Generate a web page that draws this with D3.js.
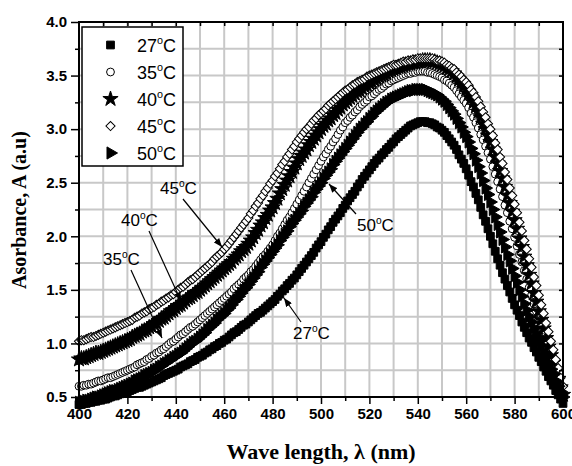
<!DOCTYPE html>
<html>
<head>
<meta charset="utf-8">
<script src="https://cdn.jsdelivr.net/npm/d3@7"></script>
<style>
body { margin: 0; background: #fff; }
text { font-family: Arial, "Liberation Sans", sans-serif; }
</style>
</head>
<body>
<svg width="572" height="466"></svg>
<script>
// wavelength grid, 1 nm step (400..600)
var wavelength = d3.range(400, 601, 1);

var abs27 = [
  0.43,0.43,0.44,0.44,0.45,0.45,0.46,0.46,0.47,0.47,
  0.48,0.48,0.49,0.50,0.51,0.51,0.52,0.53,0.54,0.54,
  0.55,0.56,0.57,0.58,0.59,0.59,0.60,0.61,0.62,0.63,
  0.64,0.65,0.66,0.67,0.68,0.70,0.71,0.72,0.73,0.74,
  0.75,0.76,0.78,0.79,0.80,0.81,0.83,0.84,0.85,0.87,
  0.88,0.89,0.91,0.92,0.94,0.95,0.97,0.98,1.00,1.01,
  1.03,1.04,1.06,1.08,1.10,1.11,1.13,1.15,1.17,1.18,
  1.20,1.22,1.24,1.26,1.28,1.29,1.31,1.33,1.35,1.37,
  1.39,1.41,1.44,1.46,1.49,1.51,1.54,1.56,1.59,1.61,
  1.64,1.67,1.70,1.73,1.76,1.79,1.82,1.85,1.89,1.92,
  1.95,1.99,2.02,2.06,2.09,2.13,2.16,2.19,2.22,2.26,
  2.29,2.33,2.36,2.39,2.42,2.46,2.49,2.53,2.56,2.59,
  2.62,2.65,2.68,2.71,2.73,2.76,2.78,2.81,2.83,2.86,
  2.88,2.91,2.93,2.95,2.97,2.99,3.01,3.03,3.04,3.05,
  3.06,3.07,3.07,3.07,3.06,3.06,3.05,3.04,3.02,3.01,
  2.99,2.97,2.94,2.91,2.88,2.85,2.81,2.76,2.72,2.68,
  2.63,2.57,2.51,2.46,2.40,2.34,2.27,2.20,2.14,2.07,
  2.00,1.93,1.86,1.79,1.73,1.66,1.60,1.54,1.48,1.42,
  1.36,1.31,1.26,1.20,1.15,1.10,1.05,1.01,0.96,0.92,
  0.87,0.83,0.78,0.74,0.69,0.65,0.61,0.56,0.52,0.48,
  0.44];

var abs35 = [
  0.60,0.60,0.61,0.61,0.62,0.62,0.63,0.64,0.65,0.65,
  0.66,0.67,0.68,0.68,0.69,0.70,0.71,0.72,0.73,0.74,
  0.75,0.76,0.77,0.78,0.80,0.81,0.82,0.83,0.85,0.86,
  0.88,0.89,0.91,0.92,0.94,0.95,0.97,0.99,1.01,1.02,
  1.04,1.06,1.08,1.09,1.11,1.13,1.15,1.16,1.18,1.20,
  1.22,1.24,1.26,1.28,1.30,1.32,1.34,1.36,1.38,1.40,
  1.42,1.44,1.46,1.48,1.51,1.53,1.55,1.57,1.60,1.62,
  1.64,1.67,1.69,1.72,1.75,1.78,1.81,1.83,1.86,1.89,
  1.92,1.96,2.00,2.03,2.07,2.11,2.15,2.18,2.22,2.26,
  2.30,2.34,2.38,2.42,2.46,2.50,2.54,2.58,2.62,2.66,
  2.70,2.74,2.77,2.81,2.84,2.88,2.91,2.95,2.99,3.02,
  3.06,3.08,3.11,3.13,3.16,3.18,3.21,3.23,3.25,3.27,
  3.30,3.31,3.33,3.35,3.37,3.38,3.40,3.42,3.43,3.45,
  3.46,3.47,3.48,3.49,3.50,3.51,3.52,3.52,3.53,3.53,
  3.54,3.54,3.54,3.54,3.53,3.53,3.52,3.51,3.50,3.49,
  3.48,3.46,3.45,3.43,3.41,3.39,3.36,3.33,3.30,3.27,
  3.24,3.20,3.15,3.11,3.06,3.01,2.95,2.90,2.84,2.78,
  2.72,2.65,2.58,2.51,2.44,2.37,2.29,2.22,2.14,2.07,
  1.99,1.91,1.83,1.76,1.68,1.60,1.52,1.45,1.37,1.30,
  1.22,1.15,1.08,1.00,0.93,0.86,0.79,0.72,0.66,0.59,
  0.52];

var abs40 = [
  0.85,0.86,0.86,0.87,0.88,0.89,0.90,0.91,0.91,0.92,
  0.93,0.94,0.95,0.96,0.97,0.98,0.99,1.00,1.01,1.02,
  1.03,1.04,1.06,1.07,1.08,1.09,1.11,1.12,1.13,1.15,
  1.16,1.18,1.19,1.21,1.23,1.24,1.26,1.28,1.30,1.31,
  1.33,1.35,1.36,1.38,1.40,1.42,1.43,1.45,1.47,1.48,
  1.50,1.52,1.54,1.56,1.58,1.60,1.62,1.64,1.66,1.68,
  1.70,1.72,1.74,1.76,1.79,1.81,1.83,1.86,1.88,1.90,
  1.93,1.96,1.99,2.03,2.06,2.10,2.13,2.17,2.20,2.24,
  2.27,2.31,2.35,2.40,2.44,2.48,2.52,2.56,2.60,2.64,
  2.68,2.72,2.75,2.78,2.81,2.85,2.88,2.91,2.94,2.97,
  3.00,3.03,3.05,3.08,3.10,3.13,3.15,3.18,3.20,3.23,
  3.25,3.27,3.29,3.31,3.33,3.35,3.36,3.38,3.40,3.41,
  3.43,3.44,3.46,3.47,3.49,3.50,3.51,3.52,3.54,3.55,
  3.56,3.57,3.58,3.58,3.59,3.60,3.61,3.61,3.62,3.62,
  3.63,3.63,3.64,3.64,3.64,3.64,3.63,3.63,3.62,3.61,
  3.60,3.59,3.57,3.56,3.54,3.52,3.49,3.46,3.43,3.40,
  3.37,3.33,3.29,3.25,3.21,3.16,3.11,3.05,3.00,2.94,
  2.88,2.81,2.74,2.68,2.61,2.54,2.46,2.38,2.31,2.23,
  2.15,2.07,1.98,1.90,1.81,1.73,1.64,1.56,1.47,1.39,
  1.30,1.22,1.14,1.05,0.97,0.89,0.82,0.74,0.67,0.59,
  0.52];

var abs45 = [
  1.02,1.03,1.03,1.04,1.05,1.06,1.06,1.07,1.08,1.09,
  1.10,1.11,1.12,1.13,1.14,1.15,1.16,1.17,1.18,1.19,
  1.20,1.21,1.22,1.24,1.25,1.26,1.28,1.29,1.30,1.32,
  1.33,1.34,1.36,1.37,1.39,1.40,1.42,1.43,1.45,1.46,
  1.48,1.50,1.52,1.53,1.55,1.57,1.59,1.60,1.62,1.64,
  1.66,1.68,1.70,1.72,1.74,1.76,1.79,1.81,1.83,1.85,
  1.88,1.90,1.93,1.96,1.99,2.02,2.05,2.08,2.11,2.14,
  2.17,2.21,2.24,2.28,2.31,2.35,2.38,2.42,2.45,2.49,
  2.52,2.56,2.59,2.63,2.67,2.70,2.74,2.77,2.81,2.84,
  2.88,2.91,2.94,2.97,3.00,3.02,3.05,3.08,3.10,3.13,
  3.15,3.17,3.19,3.22,3.24,3.26,3.28,3.30,3.32,3.34,
  3.36,3.37,3.39,3.41,3.42,3.44,3.45,3.46,3.47,3.49,
  3.50,3.51,3.52,3.53,3.54,3.55,3.56,3.57,3.58,3.59,
  3.60,3.60,3.61,3.62,3.63,3.63,3.64,3.64,3.65,3.65,
  3.66,3.66,3.66,3.66,3.66,3.66,3.66,3.65,3.64,3.64,
  3.63,3.62,3.60,3.59,3.57,3.56,3.53,3.51,3.49,3.46,
  3.44,3.41,3.37,3.34,3.30,3.26,3.21,3.16,3.11,3.05,
  3.00,2.94,2.87,2.81,2.74,2.68,2.60,2.53,2.45,2.38,
  2.30,2.22,2.13,2.05,1.96,1.88,1.79,1.71,1.62,1.54,
  1.45,1.36,1.28,1.19,1.11,1.02,0.94,0.85,0.77,0.68,
  0.60];

var abs50 = [
  0.45,0.45,0.46,0.47,0.47,0.48,0.49,0.50,0.50,0.51,
  0.52,0.53,0.54,0.55,0.56,0.56,0.57,0.58,0.59,0.60,
  0.61,0.62,0.63,0.65,0.66,0.67,0.68,0.70,0.71,0.72,
  0.73,0.75,0.76,0.78,0.79,0.81,0.82,0.84,0.85,0.87,
  0.88,0.90,0.91,0.93,0.95,0.97,0.99,1.01,1.02,1.04,
  1.06,1.08,1.10,1.13,1.15,1.17,1.19,1.22,1.24,1.26,
  1.28,1.31,1.33,1.36,1.39,1.41,1.44,1.47,1.50,1.52,
  1.55,1.58,1.61,1.64,1.67,1.71,1.74,1.77,1.80,1.83,
  1.86,1.89,1.92,1.96,1.99,2.02,2.05,2.09,2.12,2.15,
  2.18,2.21,2.24,2.28,2.31,2.34,2.37,2.41,2.44,2.47,
  2.50,2.54,2.57,2.60,2.63,2.67,2.70,2.73,2.76,2.79,
  2.82,2.85,2.88,2.91,2.94,2.97,3.00,3.02,3.05,3.07,
  3.10,3.12,3.15,3.17,3.19,3.21,3.23,3.25,3.26,3.28,
  3.29,3.30,3.31,3.32,3.33,3.34,3.35,3.36,3.36,3.37,
  3.37,3.37,3.37,3.37,3.36,3.35,3.34,3.33,3.32,3.30,
  3.28,3.26,3.23,3.20,3.17,3.14,3.10,3.06,3.02,2.97,
  2.93,2.88,2.82,2.77,2.71,2.65,2.59,2.52,2.45,2.39,
  2.32,2.25,2.18,2.11,2.04,1.97,1.90,1.83,1.77,1.70,
  1.63,1.57,1.50,1.44,1.37,1.31,1.25,1.20,1.14,1.09,
  1.03,0.98,0.92,0.87,0.81,0.76,0.71,0.65,0.60,0.55,
  0.50];

var temps = ['27', '35', '40', '45', '50'];
var xTicks = [400, 420, 440, 460, 480, 500, 520, 540, 560, 580, 600];
var yTicks = [0.5, 1.0, 1.5, 2.0, 2.5, 3.0, 3.5, 4.0];

// annotation labels: temperature, label pos, arrow start, arrow end
var notes = [
  {t: '45', lx: 160, ly: 194, x1: 183, y1: 199, x2: 222, y2: 247},
  {t: '40', lx: 121, ly: 226, x1: 149, y1: 231, x2: 181, y2: 301},
  {t: '35', lx: 103, ly: 265, x1: 131, y1: 270, x2: 162, y2: 338},
  {t: '50', lx: 357, ly: 231, x1: 356, y1: 214, x2: 329, y2: 184},
  {t: '27', lx: 293, ly: 339, x1: 301, y1: 322, x2: 284, y2: 298}
];

var svg = d3.select('svg');
var x = d3.scaleLinear().domain([400, 600]).range([79, 563]);
var y = d3.scaleLinear().domain([0.5, 4.0]).range([397, 22]);

var defs = svg.append('defs');
defs.append('marker')
  .attr('id', 'arr')
  .attr('viewBox', '0 0 10 8')
  .attr('refX', 10).attr('refY', 4)
  .attr('markerWidth', 9).attr('markerHeight', 7)
  .attr('markerUnits', 'userSpaceOnUse')
  .attr('orient', 'auto')
  .append('path').attr('d', 'M0,0L10,4L0,8Z').attr('fill', '#000');

// grid
var grid = svg.append('g');
grid.selectAll('.gx').data(d3.range(410, 600, 10)).enter().append('line')
  .attr('x1', function(d){ return x(d); }).attr('x2', function(d){ return x(d); })
  .attr('y1', y(4.0)).attr('y2', y(0.5))
  .attr('stroke', '#c8c8c8').attr('stroke-width', 2);
grid.selectAll('.gy').data(d3.range(0.75, 4.0, 0.25)).enter().append('line')
  .attr('y1', function(d){ return y(d); }).attr('y2', function(d){ return y(d); })
  .attr('x1', x(400)).attr('x2', x(600))
  .attr('stroke', '#c8c8c8').attr('stroke-width', 2);

// symbols
var symbolDefs = {
  '27': {path: d3.symbol(d3.symbolSquare, 60)(), rot: 0, fill: '#000'},
  '35': {path: d3.symbol(d3.symbolCircle, 48)(), rot: 0, fill: '#fff'},
  '40': {path: d3.symbol(d3.symbolStar, 72)(), rot: 0, fill: '#000'},
  '45': {path: d3.symbol(d3.symbolSquare, 42)(), rot: 45, fill: '#fff'},
  '50': {path: d3.symbol(d3.symbolTriangle, 64)(), rot: 90, fill: '#000'}
};

var seriesData = {'27': abs27, '35': abs35, '40': abs40, '45': abs45, '50': abs50};

temps.forEach(function(t){
  var s = symbolDefs[t];
  var pts = wavelength.map(function(w, i){ return {w: w, a: seriesData[t][i]}; });
  svg.append('g').selectAll('path').data(pts).enter().append('path')
    .attr('d', s.path)
    .attr('transform', function(d){
      return 'translate(' + x(d.w) + ',' + y(d.a) + ') rotate(' + s.rot + ')';
    })
    .attr('fill', s.fill)
    .attr('stroke', '#000')
    .attr('stroke-width', 1);
});

// axes
var fmt = d3.format('.1f');
svg.append('g').attr('transform', 'translate(0,397)')
  .call(d3.axisBottom(x).tickValues(xTicks).tickSize(7).tickPadding(4).tickFormat(d3.format('d')));
svg.append('g').attr('transform', 'translate(0,397)')
  .call(d3.axisBottom(x).tickValues(d3.range(410, 600, 20)).tickSize(4).tickFormat(''));
svg.append('g').attr('transform', 'translate(79,0)')
  .call(d3.axisLeft(y).tickValues(yTicks).tickSize(8).tickPadding(4).tickFormat(fmt));
svg.append('g').attr('transform', 'translate(79,0)')
  .call(d3.axisLeft(y).tickValues(d3.range(0.75, 4.0, 0.5)).tickSize(4).tickFormat(''));
svg.append('g').attr('transform', 'translate(0,22)')
  .call(d3.axisTop(x).tickValues(d3.range(410, 600, 10)).tickSize(-4).tickFormat(''));
svg.append('g').attr('transform', 'translate(563,0)')
  .call(d3.axisRight(y).tickValues(d3.range(0.75, 4.0, 0.25)).tickSize(-4).tickFormat(''));
svg.selectAll('.domain').remove();
svg.selectAll('.tick line').attr('stroke', '#000').attr('stroke-width', 1.5);
svg.selectAll('.tick text')
  .attr('font-family', 'Arial, "Liberation Sans", sans-serif')
  .attr('font-size', 15).attr('font-weight', 'bold').attr('fill', '#000');

svg.append('rect')
  .attr('x', 79).attr('y', 22).attr('width', 563 - 79).attr('height', 397 - 22)
  .attr('fill', 'none').attr('stroke', '#000').attr('stroke-width', 2);

// axis titles
svg.append('text')
  .attr('x', 321).attr('y', 459)
  .attr('text-anchor', 'middle')
  .style('font-family', '"Liberation Serif", "Times New Roman", serif')
  .attr('font-size', 22).attr('font-weight', 'bold')
  .text('Wave length, \u03bb (nm)');
svg.append('text')
  .attr('transform', 'translate(26,210) rotate(-90)')
  .attr('text-anchor', 'middle')
  .style('font-family', '"Liberation Serif", "Times New Roman", serif')
  .attr('font-size', 20).attr('font-weight', 'bold')
  .text('Asorbance, A (a.u)');

function degLabel(g, t, lx, ly, size) {
  var txt = g.append('text').attr('x', lx).attr('y', ly).attr('font-size', size);
  txt.append('tspan').text(t);
  txt.append('tspan').attr('font-size', size * 0.6).attr('dy', -size * 0.42).text('o');
  txt.append('tspan').attr('dy', size * 0.42).text('C');
}

// legend
var leg = svg.append('g');
leg.append('rect')
  .attr('x', 82).attr('y', 27).attr('width', 101).attr('height', 139)
  .attr('fill', '#fff').attr('stroke', '#000').attr('stroke-width', 1.5);
temps.forEach(function(t, i){
  var cy = 45 + i * 27;
  var s = symbolDefs[t];
  leg.append('path')
    .attr('d', s.path)
    .attr('transform', 'translate(110.5,' + cy + ') rotate(' + s.rot + ')')
    .attr('fill', s.fill).attr('stroke', '#000').attr('stroke-width', 1);
  degLabel(leg, t, 137, cy + 7, 18);
});

// annotations
var ann = svg.append('g');
notes.forEach(function(n){
  ann.append('line')
    .attr('x1', n.x1).attr('y1', n.y1).attr('x2', n.x2).attr('y2', n.y2)
    .attr('stroke', '#000').attr('stroke-width', 1.2)
    .attr('marker-end', 'url(#arr)');
  degLabel(ann, n.t, n.lx, n.ly, 17);
});
</script>
</body>
</html>
